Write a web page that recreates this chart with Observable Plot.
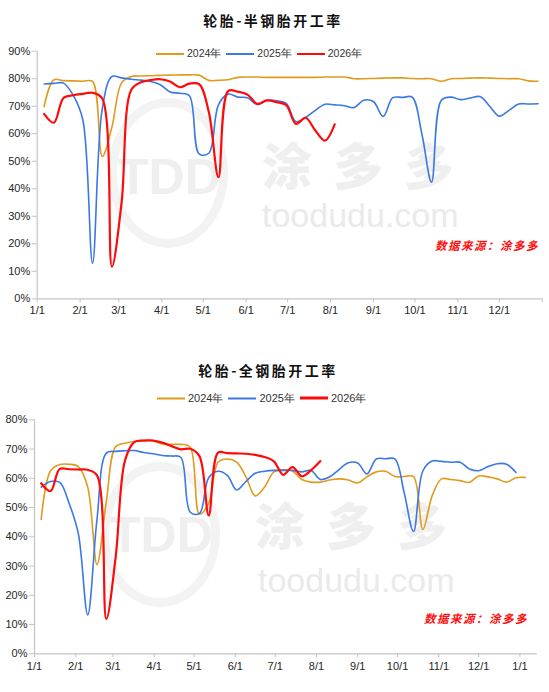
<!DOCTYPE html>
<html>
<head>
<meta charset="utf-8">
<script src="https://cdn.jsdelivr.net/npm/d3@7"></script>
<script src="https://cdn.jsdelivr.net/npm/@observablehq/plot@0.6"></script>
<style>
  body { margin: 0; background: #fff; }
  #wrap { position: relative; width: 549px; height: 692px; background: #fff; overflow: hidden; font-family: "Liberation Sans", Arial, sans-serif; }
  .abs { position: absolute; white-space: nowrap; }
  .title { font-family: "Noto Sans CJK SC", sans-serif; font-weight: 700; font-size: 14px; letter-spacing: 2.5px; color: #111; transform: translate(-50%, -50%); }
  .legend { display: flex; align-items: center; font-size: 11px; color: #333; transform: translateY(-50%); }
  .legend .sw { display: inline-block; width: 28px; height: 2px; margin-right: 3px; }
  .legend .lb { margin-right: 5px; }
  .src { font-family: "Noto Sans CJK SC", sans-serif; font-weight: 700; font-style: italic; color: #ff1010; font-size: 11.5px; letter-spacing: 1.5px; transform: translateY(-50%); }
  .wm-cjk { font-family: "Noto Sans CJK SC", sans-serif; font-weight: 900; color: #efefef; font-size: 50px; letter-spacing: 21px; line-height: 50px; height: 50px; }
  .wm-url { font-family: "Liberation Sans", Arial, sans-serif; color: #eaeaea; font-size: 34px; line-height: 34px; height: 34px; }
  .wm-logo { font-family: "Liberation Sans", Arial, sans-serif; font-weight: 700; color: #efefef; font-size: 50px; line-height: 1; }
  .wm-ring { border: 9px solid #f3f3f3; border-radius: 50%; box-sizing: border-box; }
  svg { background: transparent !important; }
</style>
</head>
<body>
<div id="wrap">
  <!-- watermarks -->
  <div class="abs wm-ring" style="left:108px;top:98px;width:120px;height:150px;"></div>
  <div class="abs wm-logo" style="left:118px;top:152px;">TDD</div>
  <div class="abs wm-cjk" style="left:262px;top:138px;">涂多多</div>
  <div class="abs wm-url" style="left:262px;top:198px;">toodudu.com</div>

  <div class="abs wm-ring" style="left:100px;top:462px;width:120px;height:145px;"></div>
  <div class="abs wm-logo" style="left:110px;top:510px;">TDD</div>
  <div class="abs wm-cjk" style="left:255px;top:498px;">涂多多</div>
  <div class="abs wm-url" style="left:258px;top:563px;">toodudu.com</div>

  <div id="c1" class="abs" style="left:0;top:0;"></div>
  <div id="c2" class="abs" style="left:0;top:330px;"></div>

  <div class="abs title" style="left:273px;top:20px;">轮胎-半钢胎开工率</div>
  <div class="abs title" style="left:268px;top:370px;">轮胎-全钢胎开工率</div>

  <div id="lg1" class="abs legend" style="left:156px;top:54px;font-size:10.5px;"></div>
  <div id="lg2" class="abs legend" style="left:157px;top:398px;"></div>

  <div class="abs src" style="left:435px;top:245px;">数据来源：涂多多</div>
  <div class="abs src" style="left:424px;top:618px;">数据来源：涂多多</div>
</div>
<script>
// ---------- data ----------
const seriesNames = ["2024年", "2025年", "2026年"];
const seriesColors = ["#DF9B1D", "#3A78E6", "#FF0A0A"];

const weeks = [
  "2025-01-06","2025-01-13","2025-01-20","2025-01-27",
  "2025-02-03","2025-02-10","2025-02-17","2025-02-24",
  "2025-03-03","2025-03-10","2025-03-17","2025-03-24","2025-03-31",
  "2025-04-07","2025-04-14","2025-04-21","2025-04-28",
  "2025-05-05","2025-05-12","2025-05-19","2025-05-26",
  "2025-06-02","2025-06-09","2025-06-16","2025-06-23","2025-06-30",
  "2025-07-07","2025-07-14","2025-07-21","2025-07-28",
  "2025-08-04","2025-08-11","2025-08-18","2025-08-25",
  "2025-09-01","2025-09-08","2025-09-15","2025-09-22","2025-09-29",
  "2025-10-06","2025-10-13","2025-10-20","2025-10-27",
  "2025-11-03","2025-11-10","2025-11-17","2025-11-24",
  "2025-12-01","2025-12-08","2025-12-15","2025-12-22","2025-12-29",
  "2026-01-05"
];

// 半钢胎开工率 (%)
const semi2024 = [69.9,79.6,79.3,79.2,79.1,79.0,51.7,62.4,78.5,80.8,
  81.0,81.1,81.2,81.3,81.4,81.4,81.3,79.4,79.4,79.6,
  80.5,80.6,80.6,80.5,80.5,80.5,80.5,80.5,80.5,80.6,
  80.6,80.6,80.0,80.0,80.1,80.2,80.3,80.3,80.1,80.0,
  80.0,79.1,80.0,80.1,80.2,80.3,80.2,80.1,80.0,80.0,
  79.2,79.1];
const semi2025 = [78.1,78.3,78.4,74.0,65.0,12.9,69.0,80.8,80.3,79.8,
  79.5,79.0,77.8,75.2,74.7,73.8,52.7,52.9,70.5,74.4,
  73.3,73.1,70.6,72.1,72.0,71.0,64.4,65.9,68.5,70.7,
  70.5,70.2,69.5,72.2,71.7,66.3,73.1,73.2,73.3,60.0,
  42.4,72.1,73.3,72.4,73.0,73.5,70.0,66.4,68.5,70.8,
  70.8,70.9];
const semi2026 = [67.2,64.0,73.0,74.0,74.5,74.9,72.8,11.7,35.0,76.0,
  78.7,79.5,79.8,79.0,76.9,78.2,78.0,68.0,44.2,75.5,
  75.3,74.2,70.9,72.1,71.5,70.4,63.6,65.8,61.2,57.5,
  63.4];

// 全钢胎开工率 (%)
const all2024 = [45.9,62.5,64.7,64.8,64.0,57.0,30.5,52.0,70.8,72.0,
  72.6,72.9,72.9,71.7,71.6,71.6,70.7,47.8,51.5,65.5,
  66.6,65.5,60.5,54.0,57.0,62.2,62.9,62.5,59.6,58.7,
  58.7,59.4,59.8,59.4,58.4,60.5,62.2,62.4,60.6,60.6,
  60.6,42.5,54.0,59.8,59.6,59.2,58.6,60.8,60.5,59.8,
  58.7,60.2,60.3];
const all2025 = [57.0,58.9,58.6,51.5,41.0,13.3,46.0,68.6,69.2,69.4,
  69.5,68.8,68.4,67.8,67.6,67.2,48.5,47.9,60.2,62.4,
  61.0,56.0,58.9,61.7,62.4,62.7,62.7,62.7,62.2,62.7,
  59.6,60.5,63.0,65.3,65.2,61.5,66.6,66.7,66.6,55.0,
  41.8,62.5,65.9,65.8,65.5,65.5,63.2,62.6,64.0,65.0,
  64.8,62.0];
const all2026 = [58.3,55.6,63.2,63.1,63.0,62.9,61.0,11.9,33.0,66.0,
  72.4,72.9,72.9,72.2,71.0,69.9,70.1,67.6,47.3,68.8,
  68.6,68.5,68.4,68.0,67.3,65.8,61.2,63.8,60.7,62.8,
  65.9];

const yTicks1 = [0,10,20,30,40,50,60,70,80,90];
const yTicks2 = [0,10,20,30,40,50,60,70,80];
const monthTicks = ["2025-01-01","2025-02-01","2025-03-01","2025-04-01","2025-05-01","2025-06-01",
  "2025-07-01","2025-08-01","2025-09-01","2025-10-01","2025-11-01","2025-12-01","2026-01-01"];
const xDomain1 = ["2025-01-01","2026-01-01"];
const xDomain2 = ["2025-01-01","2026-01-14"];

// ---------- build ----------
const toRows = (vals, name) => vals.map((v, i) => ({date: new Date(weeks[i]), value: v, series: name}));
const axisGray = "#c4c4c4";
const textCol = "#262626";

function chart({sets, yTicks, yMax, xDomain, height, mt, mb, ml, mr, lastLabel, xPad}) {
  const dom = xDomain.map(d => new Date(d));
  const ticks = monthTicks.map(d => new Date(d));
  const widths = [1.6, 1.6, 2.2];
  return Plot.plot({
    width: 549, height,
    marginTop: mt, marginBottom: mb, marginLeft: ml, marginRight: mr,
    style: {background: "transparent", fontFamily: "'Liberation Sans', Arial, sans-serif", overflow: "visible"},
    x: {type: "utc", domain: dom, label: null},
    y: {domain: [0, yMax], label: null},
    marks: [
      Plot.ruleY([0], {stroke: axisGray, strokeWidth: 1.2}),
      Plot.ruleX([dom[0]], {stroke: axisGray, strokeWidth: 1.2}),
      Plot.axisY({ticks: yTicks, tickFormat: d => d + "%", tickSize: 5, tickPadding: 2, fontSize: 11,
        stroke: axisGray, fill: textCol, label: null}),
      Plot.axisX({ticks, tickSize: 4, tickPadding: xPad, fontSize: 11, stroke: axisGray, fill: textCol, label: null,
        tickFormat: d => (d.getUTCFullYear() === 2026 && !lastLabel) ? "" : `${d.getUTCMonth() + 1}/1`}),
      ...sets.map((vals, k) => Plot.line(toRows(vals, seriesNames[k]), {
        x: "date", y: "value", stroke: seriesColors[k], strokeWidth: widths[k], curve: "catmull-rom"
      }))
    ]
  });
}

document.getElementById("c1").appendChild(chart({
  sets: [semi2024, semi2025, semi2026], yTicks: yTicks1, yMax: 90, xDomain: xDomain1,
  height: 330, mt: 50.7, mb: 31.7, ml: 36.7, mr: 7.3, lastLabel: false, xPad: 3
}));
document.getElementById("c2").appendChild(chart({
  sets: [all2024, all2025, all2026], yTicks: yTicks2, yMax: 80, xDomain: xDomain2,
  height: 362, mt: 89.3, mb: 38.7, ml: 34, mr: 12.3, lastLabel: true, xPad: 4
}));

function legend(el) {
  seriesNames.forEach((n, k) => {
    const sw = document.createElement("span");
    sw.className = "sw";
    sw.style.background = seriesColors[k];
    if (k === 2) sw.style.height = "2.5px";
    const lb = document.createElement("span");
    lb.className = "lb";
    lb.textContent = n;
    el.appendChild(sw); el.appendChild(lb);
  });
}
legend(document.getElementById("lg1"));
legend(document.getElementById("lg2"));
</script>
</body>
</html>
